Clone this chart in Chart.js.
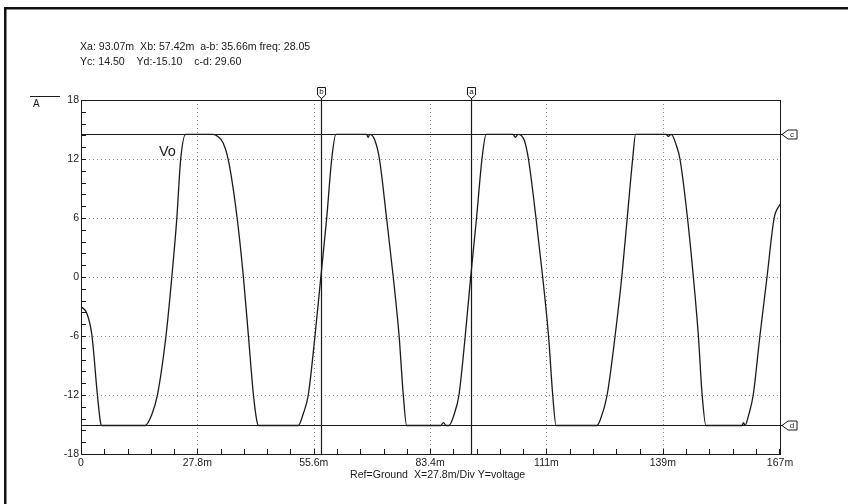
<!DOCTYPE html>
<html>
<head>
<meta charset="utf-8">
<title>Vo transient</title>
<script src="https://cdn.jsdelivr.net/npm/chart.js@4.4.1/dist/chart.umd.min.js"></script>
<style>
    html, body { margin: 0; padding: 0; background: #fff; }
    canvas { display: block; }
</style>
</head>
<body>
<canvas id="scope" width="848" height="504"></canvas>
<script>
// Vo trace, time in ms
const timeMs = [
    0, 1.4, 2.6, 3.9, 4.7, 5.0,
    15.3, 16.9, 18.3, 20.3, 21.7, 22.9, 23.8, 25.0,
    31.5, 32.7, 34.0, 35.2, 37.3, 38.8, 40.0, 41.2, 42.0, 42.4,
    51.9, 53.1, 54.3, 55.9, 57.3, 58.7, 59.9, 60.9,
    68.2, 68.6, 69.0, 70.2, 71.3, 73.0, 74.6, 76.0, 77.0, 77.8,
    86.0, 86.6, 87.2, 87.9, 89.2, 90.3, 91.8, 93.1, 94.5, 95.8, 96.8,
    103.2, 103.8, 104.4, 105.9, 106.9, 108.7, 110.3, 111.7, 112.7, 113.5,
    123.2, 124.0, 125.7, 127.6, 129.2, 130.5, 131.8, 132.5,
    139.8, 140.3, 141.0, 142.3, 143.1, 144.9, 146.3, 147.5, 148.4, 149.3,
    157.9, 158.3, 158.6, 159.6, 160.6, 162.2, 163.9, 165.6, 167
];
const voltsVo = [
    -3.0, -3.7, -5.9, -11.9, -14.9, -15.1,
    -15.1, -14.0, -11.9, -6.0, 0, 6.0, 11.9, 14.5,
    14.5, 14.3, 13.6, 11.9, 6.0, 0, -6.0, -12.0, -14.6, -15.1,
    -15.1, -13.9, -12.0, -6.0, 0, 6.0, 12.0, 14.5,
    14.5, 14.2, 14.5, 13.9, 12.0, 6.0, 0, -6.0, -12.0, -15.1,
    -15.1, -14.8, -15.1, -15.1, -13.9, -12.0, -6.0, 0, 6.0, 12.0, 14.5,
    14.5, 14.2, 14.5, 13.9, 12.0, 6.0, 0, -6.0, -12.0, -15.1,
    -15.1, -14.6, -12.0, -6.0, 0, 6.0, 12.0, 14.5,
    14.5, 14.3, 14.5, 13.3, 12.0, 6.0, 0, -6.0, -12.0, -15.1,
    -15.1, -14.8, -15.1, -13.9, -12.0, -6.0, 0, 6.0, 7.4
];

// axis ticks
const xTickValues = [0, 27.8, 55.6, 83.4, 111.2, 139, 167];
const xTickLabels = ['0', '27.8m', '55.6m', '83.4m', '111m', '139m', '167m'];
const yTickValues = [-18, -12, -6, 0, 6, 12, 18];
const xMinorStep = 5.56;
const yMinorStep = 1.2;

// cursors
const xCursors = [{ id: 'a', t: 93.07 }, { id: 'b', t: 57.42 }];
const yCursors = [{ id: 'c', v: 14.5 }, { id: 'd', v: -15.1 }];
const readoutLines = [
    'Xa: 93.07m  Xb: 57.42m  a-b: 35.66m freq: 28.05',
    'Yc: 14.50    Yd:-15.10    c-d: 29.60'
];
const footerText = 'Ref=Ground  X=27.8m/Div Y=voltage';

const FONT = '"Liberation Sans", Arial, sans-serif';
const INK = '#1a1a1a';

const scopeDecor = {
    id: 'scopeDecor',
    beforeDatasetsDraw(chart) {
        const { ctx, chartArea: a, scales: { x, y } } = chart;
        ctx.save();

        // dotted grid
        ctx.strokeStyle = '#8a8a8a';
        ctx.lineWidth = 1;
        ctx.setLineDash([1, 3]);
        xTickValues.slice(1, -1).forEach(v => {
            const px = Math.round(x.getPixelForValue(v)) + 0.5;
            ctx.beginPath(); ctx.moveTo(px, a.top); ctx.lineTo(px, a.bottom); ctx.stroke();
        });
        yTickValues.slice(1, -1).forEach(v => {
            const py = Math.round(y.getPixelForValue(v)) + 0.5;
            ctx.beginPath(); ctx.moveTo(a.left, py); ctx.lineTo(a.right, py); ctx.stroke();
        });
        ctx.setLineDash([]);

        // minor ticks, inside the frame
        ctx.strokeStyle = INK;
        for (let t = xMinorStep; t < x.max - 0.1; t += xMinorStep) {
            const px = Math.round(x.getPixelForValue(t)) + 0.5;
            ctx.beginPath(); ctx.moveTo(px, a.bottom); ctx.lineTo(px, a.bottom - 5); ctx.stroke();
        }
        for (let v = y.min + yMinorStep; v < y.max - 0.1; v += yMinorStep) {
            const py = Math.round(y.getPixelForValue(v)) + 0.5;
            ctx.beginPath(); ctx.moveTo(a.left, py); ctx.lineTo(a.left + 5, py); ctx.stroke();
        }

        // plot frame
        ctx.strokeStyle = INK;
        ctx.strokeRect(Math.round(a.left) + 0.5, Math.round(a.top) + 0.5,
            Math.round(a.right - a.left), Math.round(a.bottom - a.top));
        ctx.restore();
    },
    afterDatasetsDraw(chart) {
        const { ctx, chartArea: a, scales: { x, y } } = chart;
        ctx.save();
        ctx.strokeStyle = INK;
        ctx.fillStyle = INK;

        // horizontal cursors with tags on the right
        yCursors.forEach(c => {
            const py = Math.round(y.getPixelForValue(c.v)) + 0.5;
            ctx.lineWidth = 1.2;
            ctx.beginPath(); ctx.moveTo(a.left, py); ctx.lineTo(a.right + 2, py); ctx.stroke();
            ctx.lineWidth = 1;
            ctx.beginPath();
            ctx.moveTo(a.right + 2, py);
            ctx.lineTo(a.right + 8, py - 4.5);
            ctx.lineTo(a.right + 17, py - 4.5);
            ctx.lineTo(a.right + 17, py + 4.5);
            ctx.lineTo(a.right + 8, py + 4.5);
            ctx.closePath();
            ctx.fillStyle = '#fff'; ctx.fill(); ctx.stroke();
            ctx.fillStyle = INK;
            ctx.font = '8px ' + FONT;
            ctx.textAlign = 'center'; ctx.textBaseline = 'middle';
            ctx.fillText(c.id, a.right + 12, py + 0.5);
        });

        // vertical cursors with tags on top
        xCursors.forEach(c => {
            const px = Math.round(x.getPixelForValue(c.t)) + 0.5;
            ctx.lineWidth = 1.2;
            ctx.beginPath(); ctx.moveTo(px, a.top - 2); ctx.lineTo(px, a.bottom); ctx.stroke();
            ctx.lineWidth = 1;
            ctx.beginPath();
            ctx.moveTo(px - 4, a.top - 12.5);
            ctx.lineTo(px + 4, a.top - 12.5);
            ctx.lineTo(px + 4, a.top - 5);
            ctx.lineTo(px, a.top - 1.5);
            ctx.lineTo(px - 4, a.top - 5);
            ctx.closePath();
            ctx.fillStyle = '#fff'; ctx.fill(); ctx.stroke();
            ctx.fillStyle = INK;
            ctx.font = '8px ' + FONT;
            ctx.textAlign = 'center'; ctx.textBaseline = 'middle';
            ctx.fillText(c.id, px, a.top - 8);
        });

        // trace name
        ctx.font = '14.5px ' + FONT;
        ctx.textAlign = 'left'; ctx.textBaseline = 'alphabetic';
        ctx.fillText('Vo', 159, 156);

        // readout and footer
        ctx.font = '10.6px ' + FONT;
        ctx.fillText(readoutLines[0], 80, 50);
        ctx.fillText(readoutLines[1], 80, 65);
        ctx.fillText(footerText, 350, 478);

        // axis name with overline
        ctx.font = '10px ' + FONT;
        ctx.fillText('A', 33, 107);
        ctx.lineWidth = 1;
        ctx.beginPath(); ctx.moveTo(30, 96.5); ctx.lineTo(60, 96.5); ctx.stroke();

        // outer frame
        ctx.fillStyle = '#111';
        ctx.fillRect(4, 7, 848, 2.5);
        ctx.fillRect(4, 7, 2.5, 504);
        ctx.restore();
    }
};

const ctx = document.getElementById('scope').getContext('2d');
new Chart(ctx, {
    type: 'line',
    data: {
        datasets: [{
            label: 'Vo',
            data: timeMs.map((t, i) => ({ x: t, y: voltsVo[i] })),
            borderColor: INK,
            borderWidth: 1.3,
            pointRadius: 0,
            fill: false,
            cubicInterpolationMode: 'monotone'
        }]
    },
    options: {
        responsive: false,
        animation: false,
        layout: { padding: { left: 0, top: 100, right: 68, bottom: 0 } },
        plugins: {
            legend: { display: false },
            tooltip: { enabled: false }
        },
        scales: {
            x: {
                type: 'linear',
                min: 0,
                max: 167,
                afterBuildTicks: s => { s.ticks = xTickValues.map(v => ({ value: v })); },
                afterFit: s => { s.height = 50; },
                grid: { display: false, drawTicks: false, tickLength: 0 },
                border: { display: false },
                ticks: {
                    autoSkip: false,
                    maxRotation: 0,
                    padding: 3,
                    color: INK,
                    font: { family: FONT, size: 10.5 },
                    callback: (v, i) => xTickLabels[i]
                }
            },
            y: {
                min: -18,
                max: 18,
                afterBuildTicks: s => { s.ticks = yTickValues.map(v => ({ value: v })); },
                afterFit: s => { s.width = 81; },
                grid: { display: false, drawTicks: false, tickLength: 0 },
                border: { display: false },
                ticks: {
                    padding: 2,
                    color: INK,
                    font: { family: FONT, size: 10.5 }
                }
            }
        }
    },
    plugins: [scopeDecor]
});
</script>
</body>
</html>
